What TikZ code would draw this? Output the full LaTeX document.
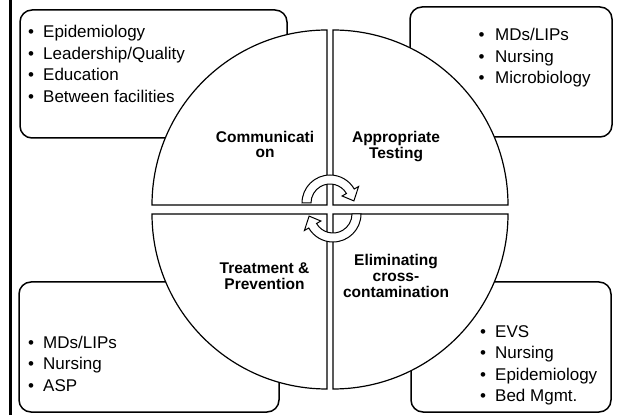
\documentclass[tikz,border=0pt]{standalone}
\usepackage{fontspec}
\setmainfont{Liberation Sans}
\begin{document}
\begin{tikzpicture}[x=1pt,y=1pt,
  box/.style={draw=black, line width=1.5pt, rounded corners=12pt, fill=white},
  quad/.style={draw=black, line width=1.2pt, fill=white},
  lbl/.style={font=\fontsize{15.5}{15.5}\selectfont\bfseries, inner sep=0, anchor=base},
  lst/.style={font=\fontsize{17}{21.4}\selectfont, inner sep=0, anchor=base west},
  carrow/.style={draw=black, line width=1pt, fill=white}]
\useasboundingbox (0,0) rectangle (623,415);
\fill[white] (0,0) rectangle (623,415);
\draw[line width=2.5pt] (10.5,0) -- (10.5,415);
% boxes
\draw[box] (20,277) rectangle (287,405);
\draw[box] (410,278) rectangle (612,408);
\draw[box] (19,3) rectangle (279,133);
\draw[box] (411,3) rectangle (611,133);
% quadrants
\draw[quad] (327,210) -- (152,210) arc[start angle=180,end angle=90,radius=175] -- cycle;
\draw[quad] (333,210) -- (333,385) arc[start angle=90,end angle=0,radius=175] -- cycle;
\draw[quad] (327,201) -- (327,26) arc[start angle=270,end angle=180,radius=175] -- cycle;
\draw[quad] (333,201) -- (508,201) arc[start angle=0,end angle=-90,radius=175] -- cycle;
% lists
\node[lst] (ullist) at (27.8,377) {\begin{tabular}[t]{@{}l@{}}\makebox[15.2pt][l]{•}Epidemiology\\\makebox[15.2pt][l]{•}Leadership/Quality\\\makebox[15.2pt][l]{•}Education\\\makebox[15.2pt][l]{•}Between facilities\end{tabular}};
\node[lst] (urlist) at (478.5,374.3) {\begin{tabular}[t]{@{}l@{}}\makebox[16.5pt][l]{•}MDs/LIPs\\\makebox[16.5pt][l]{•}Nursing\\\makebox[16.5pt][l]{•}Microbiology\end{tabular}};
\node[lst] (lllist) at (27.8,66.7) {\begin{tabular}[t]{@{}l@{}}\makebox[15.2pt][l]{•}MDs/LIPs\\\makebox[15.2pt][l]{•}Nursing\\\makebox[15.2pt][l]{•}ASP\end{tabular}};
\node[lst] (lrlist) at (479.8,77.7) {\begin{tabular}[t]{@{}l@{}}\makebox[15.2pt][l]{•}EVS\\\makebox[15.2pt][l]{•}Nursing\\\makebox[15.2pt][l]{•}Epidemiology\\\makebox[15.2pt][l]{•}Bed Mgmt.\end{tabular}};
% labels
\node[lbl] (comm) at (265,272.5) {\begin{tabular}[t]{@{}c@{}}Communicati\\on\end{tabular}};
\node[lbl] (test) at (396,272.2) {\begin{tabular}[t]{@{}c@{}}Appropriate\\Testing\end{tabular}};
\node[lbl] (treat) at (264.5,141.6) {\begin{tabular}[t]{@{}c@{}}Treatment \&\\Prevention\end{tabular}};
\node[lbl] (elim) at (396,149) {\begin{tabular}[t]{@{}c@{}}Eliminating\\cross-\\contamination\end{tabular}};
% circular arrows
\coordinate (uc) at (330,212);
\coordinate (lc) at (333,201);
\draw[carrow] ([shift={(180:28)}]uc) arc[start angle=180,end angle=30,radius=28]
  -- ([shift={(30:33)}]uc) -- ([shift={(5:24)}]uc) -- ([shift={(30:14)}]uc)
  -- ([shift={(30:19)}]uc) arc[start angle=30,end angle=180,radius=19] -- cycle;
\draw[carrow] ([shift={(0:28)}]lc) arc[start angle=0,end angle=-150,radius=28]
  -- ([shift={(-150:33)}]lc) -- ([shift={(-175:24)}]lc) -- ([shift={(-150:14)}]lc)
  -- ([shift={(-150:19)}]lc) arc[start angle=-150,end angle=0,radius=19] -- cycle;
\end{tikzpicture}
\end{document}
